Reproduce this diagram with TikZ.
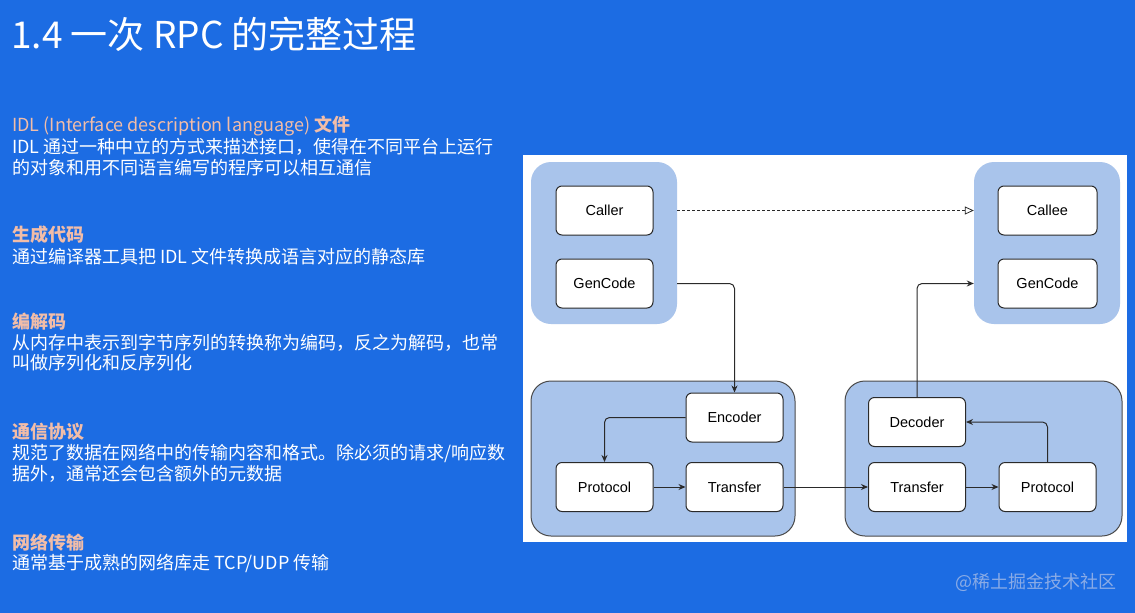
\documentclass[tikz,border=0pt]{standalone}
\usepackage{fontspec}
\setmainfont{Noto Sans CJK SC}
\newfontfamily\diagfont{Liberation Sans}
\usetikzlibrary{arrows.meta,calc}
\definecolor{bgblue}{HTML}{1C6CE3}
\definecolor{grpblue}{HTML}{A9C4EB}
\definecolor{headc}{HTML}{F2BDA8}
\definecolor{wmc}{HTML}{8AABE6}
\definecolor{edgec}{HTML}{2A2A2A}
\begin{document}
\begin{tikzpicture}[x=1pt,y=-1pt,
  bodytext/.style={anchor=base west, inner sep=0pt, text=white, font=\fontsize{18}{21}\selectfont},
  headtext/.style={anchor=base west, inner sep=0pt, text=headc, font=\fontsize{18}{21}\selectfont\bfseries},
  grp/.style={fill=grpblue, rounded corners=20pt, inner sep=0pt},
  grpb/.style={grp, draw=edgec!85, line width=1pt},
  box/.style={fill=white, draw=edgec, line width=1pt, rounded corners=6pt, minimum width=97pt, minimum height=49pt, inner sep=0pt, font=\diagfont\fontsize{14.5}{17}\selectfont, text=black},
  arr/.style={draw=edgec, line width=1pt, -{Stealth[length=7pt,width=6pt]}, rounded corners=5pt}
]
\fill[bgblue] (0,0) rectangle (1135,613);
\useasboundingbox (0,0) rectangle (1135,613);

% title
\node[anchor=base west, inner sep=0pt, text=white, font=\fontsize{37}{41}\selectfont] (title) at (11,48.5) {1.4 一次 RPC 的完整过程};

% left column
\node[headtext] (h1) at (12,131.5) {\mdseries IDL (Interface description language) \bfseries 文件};
\node[bodytext] (t1a) at (12,153.5) {IDL 通过一种中立的方式来描述接口，使得在不同平台上运行};
\node[bodytext] (t1b) at (12,174.5) {的对象和用不同语言编写的程序可以相互通信};
\node[headtext] (h2) at (12,241.5) {生成代码};
\node[bodytext] (t2a) at (12,263.5) {通过编译器工具把 IDL 文件转换成语言对应的静态库};
\node[headtext] (h3) at (12,328.5) {编解码};
\node[bodytext] (t3a) at (12,349.5) {从内存中表示到字节序列的转换称为编码，反之为解码，也常};
\node[bodytext] (t3b) at (12,369.5) {叫做序列化和反序列化};
\node[headtext] (h4) at (12,438.5) {通信协议};
\node[bodytext] (t4a) at (12,459.5) {规范了数据在网络中的传输内容和格式。除必须的请求/响应数};
\node[bodytext] (t4b) at (12,480.5) {据外，通常还会包含额外的元数据};
\node[headtext] (h5) at (12,549.5) {网络传输};
\node[bodytext] (t5a) at (12,569.5) {通常基于成熟的网络库走 TCP/UDP 传输};

% panel
\node[fill=white, inner sep=0pt, minimum width=604pt, minimum height=387pt] (panel) at (825,348.5) {};

% groups
\node[grp, minimum width=146pt, minimum height=162pt] (gTL) at (604,243) {};
\node[grp, minimum width=146pt, minimum height=162pt] (gTR) at (1047,243) {};
\node[grpb, minimum width=264pt, minimum height=155pt] (gBL) at (663,458.5) {};
\node[grpb, minimum width=277pt, minimum height=155pt] (gBR) at (983.5,458.5) {};

% boxes
\node[box] (caller) at (604.5,210.5) {Caller};
\node[box] (genL) at (604.5,283.5) {GenCode};
\node[box, minimum width=99pt] (callee) at (1047.5,210.5) {Callee};
\node[box, minimum width=99pt] (genR) at (1047.5,283.5) {GenCode};
\node[box] (enc) at (734.5,417.5) {Encoder};
\node[box] (protoL) at (604.5,487) {Protocol};
\node[box] (transL) at (734.5,487) {Transfer};
\node[box] (dec) at (917,422) {Decoder};
\node[box] (transR) at (917,487) {Transfer};
\node[box] (protoR) at (1047.5,487) {Protocol};

% connectors
\draw[draw=edgec, line width=0.8pt, dash pattern=on 3pt off 2pt, -{Triangle[open,length=9pt,width=8pt]}] (gTL.east |- caller) -- (gTR.west |- callee);
\draw[arr] (gTL.east |- genL) -| (enc.north);
\draw[arr] (enc.west) -| (protoL.north);
\draw[arr] (protoL) -- (transL);
\draw[arr] (transL) -- (transR);
\draw[arr] (transR) -- (protoR);
\draw[arr] (protoR.north) |- (dec.east);
\draw[arr] (dec.north) |- (gTR.west |- genR);

% watermark
\node[anchor=center, inner sep=0pt, text=wmc, font=\fontsize{18}{20}\selectfont] (wm) at (1036,582) {@稀土掘金技术社区};
\end{tikzpicture}
\end{document}
